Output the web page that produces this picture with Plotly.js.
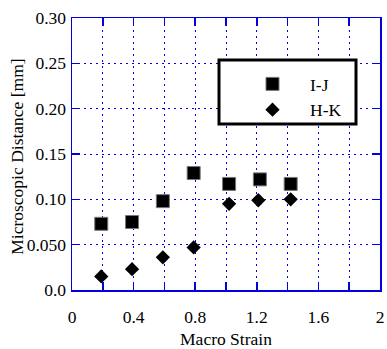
<!DOCTYPE html>
<html><head><meta charset="utf-8">
<script src="https://cdn.plot.ly/plotly-3.0.1.min.js"></script>
<style>body{margin:0;background:#fff}#c{width:387px;height:349px}</style>
</head><body><div id="c"></div>
<script>
var seriesIJName = 'I-J';
var seriesHKName = 'H-K';
var strainIJ = [0.19, 0.39, 0.59, 0.79, 1.02, 1.22, 1.42];
var distIJ = [0.073, 0.075, 0.098, 0.129, 0.117, 0.122, 0.117];
var strainHK = [0.19, 0.39, 0.59, 0.79, 1.02, 1.21, 1.42];
var distHK = [0.015, 0.023, 0.036, 0.047, 0.095, 0.099, 0.100];
var xTickVals = [0, 0.2, 0.4, 0.6, 0.8, 1.0, 1.2, 1.4, 1.6, 1.8, 2.0];
var xTickText = ['0', '', '0.4', '', '0.8', '', '1.2', '', '1.6', '', '2'];
var yTickVals = [0, 0.05, 0.10, 0.15, 0.20, 0.25, 0.30];
var yTickText = ['0.0', '0.050', '0.10', '0.15', '0.20', '0.25', '0.30'];

var font = {family: 'Liberation Serif', size: 17.5, color: '#000'};
var blue = '#0000e0';

var traces = [
  {x: strainIJ, y: distIJ, name: seriesIJName, type: 'scatter', mode: 'markers',
   marker: {symbol: 'square', size: 13, color: '#000', line: {color: '#777', width: 1}}},
  {x: strainHK, y: distHK, name: seriesHKName, type: 'scatter', mode: 'markers',
   marker: {symbol: 'diamond', size: 11, color: '#000', line: {width: 0}}}
];

var axisCommon = {
  showline: true, linecolor: blue, linewidth: 1.5, mirror: 'ticks',
  ticks: 'inside', ticklen: 8, tickcolor: blue, tickwidth: 1.5,
  showgrid: true, gridcolor: blue, gridwidth: 1, griddash: '2px,4px',
  zeroline: false, tickfont: font
};

var layout = {
  width: 387, height: 349,
  margin: {l: 72, r: 7, t: 18, b: 59},
  paper_bgcolor: '#fff', plot_bgcolor: '#fff',
  font: font,
  showlegend: true,
  xaxis: Object.assign({}, axisCommon, {
    range: [0, 2], tickmode: 'array', tickvals: xTickVals, ticktext: xTickText,
    ticklabelstandoff: 10,
    title: {text: 'Macro Strain', font: font, standoff: 7}
  }),
  yaxis: Object.assign({}, axisCommon, {
    range: [0, 0.30], tickmode: 'array', tickvals: yTickVals, ticktext: yTickText,
    ticklabelstandoff: 1
  }),
  legend: {
    x: (235 - 72) / 308, y: (290 - 66) / 272, xanchor: 'left', yanchor: 'top',
    bgcolor: 'rgba(0,0,0,0)', borderwidth: 0,
    font: font, itemwidth: 65, tracegroupgap: 0
  },
  shapes: [{
    type: 'rect', xref: 'paper', yref: 'paper', layer: 'above',
    x0: (219 - 72) / 308, x1: (356 - 72) / 308,
    y0: (290 - 124) / 272, y1: (290 - 60) / 272,
    fillcolor: '#fff', line: {color: '#000', width: 3}
  }],
  annotations: [{
    text: 'Microscopic Distance [mm]', textangle: -90, showarrow: false,
    xref: 'paper', yref: 'paper', x: (17 - 72) / 308, y: 0.49,
    xanchor: 'center', yanchor: 'middle', font: font
  }]
};

Plotly.newPlot('c', traces, layout, {displayModeBar: false, staticPlot: true});
</script></body></html>
